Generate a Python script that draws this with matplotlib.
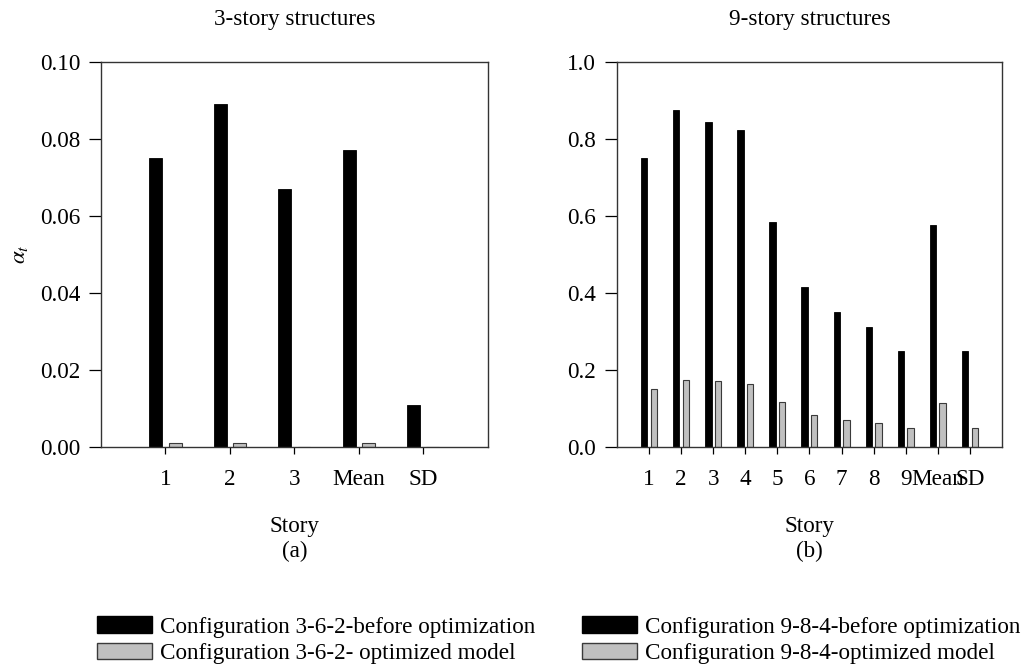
import matplotlib
matplotlib.use("Agg")
import matplotlib.pyplot as plt
import numpy as np
from matplotlib.patches import Patch

plt.rcParams["font.family"] = ["Liberation Serif", "DejaVu Serif"]
plt.rcParams["mathtext.fontset"] = "stix"

# alpha_t per story, 3-story frame
labels_3 = ["1", "2", "3", "Mean", "SD"]
before_3 = [0.075, 0.089, 0.067, 0.077, 0.011]
optim_3 = [0.001, 0.001, 0.0, 0.001, 0.0]

# alpha_t per story, 9-story frame
labels_9 = ["1", "2", "3", "4", "5", "6", "7", "8", "9", "Mean", "SD"]
before_9 = [0.751, 0.874, 0.845, 0.822, 0.585, 0.415, 0.351, 0.311, 0.250, 0.577, 0.250]
optim_9 = [0.150, 0.174, 0.170, 0.164, 0.117, 0.084, 0.071, 0.062, 0.050, 0.114, 0.050]

BLACK = "#000000"
GREY = "#c0c0c0"
EDGE_GREY = "#3a3a3a"
FS = 16.7

fig = plt.figure(figsize=(10.23, 6.66), dpi=100)
ax1 = fig.add_axes([0.0987, 0.329, 0.378, 0.578])
ax2 = fig.add_axes([0.603, 0.329, 0.3765, 0.578])


def draw_panel(ax, labels, before, optim, ymax, yfmt, title, sub):
    x = np.arange(1, len(labels) + 1)
    w = 0.2
    ax.bar(x - 0.15, before, w, color=BLACK, edgecolor=BLACK, linewidth=0.6)
    ax.bar(x + 0.15, optim, w, color=GREY, edgecolor=EDGE_GREY, linewidth=0.8)
    ax.set_xlim(0, len(labels) + 1)
    ax.set_ylim(0, ymax)
    ax.set_xticks(x)
    ax.set_xticklabels(labels, fontsize=FS)
    yt = np.linspace(0, ymax, 6)
    ax.set_yticks(yt)
    ax.set_yticklabels([yfmt.format(v) for v in yt], fontsize=FS)
    ax.tick_params(axis="y", direction="out", length=9, width=0.9, pad=6)
    ax.tick_params(axis="x", direction="out", length=5, width=0.9, pad=11)
    for s in ax.spines.values():
        s.set_linewidth(1.0)
        s.set_color("#333333")
    ax.set_title(title, fontsize=FS, pad=26.5)
    ax.set_xlabel("Story\n" + sub, fontsize=FS, labelpad=19, linespacing=1.18)


draw_panel(ax1, labels_3, before_3, optim_3, 0.10, "{:.2f}",
           "3-story structures", "(a)")
draw_panel(ax2, labels_9, before_9, optim_9, 1.0, "{:.1f}",
           "9-story structures", "(b)")
ax1.set_ylabel(r"$\alpha_t$", fontsize=FS, labelpad=7)

legend_kw = dict(loc="upper left", frameon=False, fontsize=FS,
                 handlelength=2.37, handleheight=0.7, labelspacing=0.22,
                 handletextpad=0.34, borderpad=0, borderaxespad=0)
h_left = [Patch(facecolor=BLACK, edgecolor=BLACK),
          Patch(facecolor=GREY, edgecolor=EDGE_GREY)]
fig.legend(h_left,
           ["Configuration 3-6-2-before optimization",
            "Configuration 3-6-2- optimized model"],
           bbox_to_anchor=(0.0948, 0.0745), **legend_kw)
h_right = [Patch(facecolor=BLACK, edgecolor=BLACK),
           Patch(facecolor=GREY, edgecolor=EDGE_GREY)]
fig.legend(h_right,
           ["Configuration 9-8-4-before optimization",
            "Configuration 9-8-4-optimized model"],
           bbox_to_anchor=(0.569, 0.0745), **legend_kw)

fig.savefig("out.png", dpi=100)
